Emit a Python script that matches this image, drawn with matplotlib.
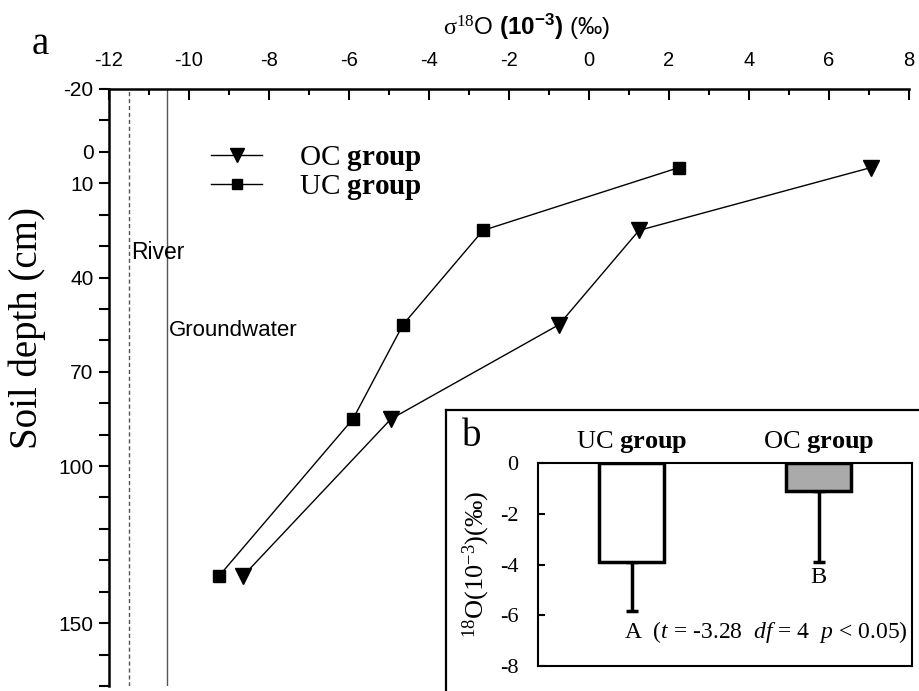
import matplotlib
matplotlib.use("Agg")
import matplotlib.pyplot as plt
from matplotlib.ticker import FixedLocator, FuncFormatter, MultipleLocator

plt.rcParams['mathtext.fontset'] = 'custom'
plt.rcParams['mathtext.rm'] = 'Liberation Serif'
plt.rcParams['mathtext.it'] = 'Liberation Serif:italic'
plt.rcParams['mathtext.bf'] = 'Liberation Serif:bold'
plt.rcParams['mathtext.sf'] = 'Liberation Sans:bold'
plt.rcParams['axes.unicode_minus'] = False

# ---------------- data ----------------
depth = [5, 25, 55, 85, 135]
oc_d18o = [7.05, 1.25, -0.75, -4.95, -8.65]
uc_d18o = [2.25, -2.65, -4.65, -5.9, -9.25]
river_d18o = -11.5
groundwater_d18o = -10.55
depth_labels = [-20, 0, 10, 40, 70, 100, 150]

groups = ["UC", "OC"]
group_means = [-3.9, -1.1]
group_err = [1.95, 2.8]
group_letters = ["A", "B"]
stats_text = r"($t$ = -3.28  $df$ = 4  $p$ < 0.05)"

fig = plt.figure(figsize=(9.19, 6.91), dpi=100)

# ---------------- panel a ----------------
ax = fig.add_axes([109/919, 1-686/691, 800/919, (686-89)/691])
ax.set_xlim(-12, 8)
ax.set_ylim(170, -20)

ax.plot(oc_d18o, depth, color='black', lw=1, marker='v', ms=12,
        label=r"OC $\mathbf{group}$")
ax.plot(uc_d18o, depth, color='black', lw=1, marker='s', ms=9,
        label=r"UC $\mathbf{group}$")
ax.axvline(river_d18o, color='#555555', lw=1, ls=(0, (3, 2)))
ax.axvline(groundwater_d18o, color='#555555', lw=1)
ax.text(river_d18o + 0.05, 32, "River", fontsize=16.5,
        family='Liberation Sans', va='center', ha='left')
ax.text(groundwater_d18o + 0.05, 57, "Groundwater", fontsize=16,
        family='Liberation Sans', va='center', ha='left')

for s in ['right', 'bottom']:
    ax.spines[s].set_visible(False)
for s in ['left', 'top']:
    ax.spines[s].set_linewidth(1.8)

ax.xaxis.tick_top()
ax.xaxis.set_major_locator(MultipleLocator(2))
ax.xaxis.set_minor_locator(MultipleLocator(1))
ax.tick_params(axis='x', which='major', direction='in', length=8, width=1.5,
               labelsize=14.5, pad=14)
ax.tick_params(axis='x', which='minor', direction='in', length=4.5, width=1.5)
for lbl in ax.get_xticklabels():
    lbl.set_family('Liberation Sans')

ax.yaxis.set_major_locator(FixedLocator(list(range(-20, 171, 10))))
ax.yaxis.set_major_formatter(FuncFormatter(
    lambda v, p: f"{int(round(v))}" if int(round(v)) in depth_labels else ""))
ax.tick_params(axis='y', which='major', direction='out', length=7, width=1.5,
               labelsize=15, pad=4)
for lbl in ax.get_yticklabels():
    lbl.set_family('Liberation Sans')
ax.set_ylabel("Soil depth (cm)", family='Liberation Serif', fontsize=28)
ax.yaxis.set_label_coords(-0.079, 0.6)

leg = ax.legend(loc='upper left', bbox_to_anchor=(0.095, 0.952), frameon=False,
                prop={'family': 'Liberation Serif', 'size': 21},
                handlelength=1.75, handletextpad=1.25, labelspacing=0.0,
                markerscale=0.85)

fig.text(40/919, 1-45/691, "a", family='Liberation Serif', fontsize=28,
         ha='center', va='center')
fig.text(527/919, 1-27/691,
         r"$\mathrm{σ}^{18}$O $\mathsf{(10^{-3})}$ (‰)",
         family='Liberation Sans', fontsize=17.5, ha='center', va='center')

# ---------------- panel b frame ----------------
frame = fig.add_axes([446/919, -0.02, 0.6, 1-410/691+0.02])
frame.set_xticks([]); frame.set_yticks([])
frame.set_facecolor('white')
for s in ['right', 'bottom']:
    frame.spines[s].set_visible(False)
for s in ['left', 'top']:
    frame.spines[s].set_linewidth(1.6)
fig.text(472/919, 1-437/691, "b", family='Liberation Serif', fontsize=28,
         ha='center', va='center')

axb = fig.add_axes([538/919, 1-666/691, (912-538)/919, (666-463)/691])
x = list(range(len(groups)))
axb.bar(x, group_means, width=0.35, color=['white', '#aaaaaa'],
        edgecolor='black', linewidth=2.5, zorder=3)
for xi, m, e in zip(x, group_means, group_err):
    axb.errorbar([xi], [m], yerr=[[e], [0]], fmt='none', ecolor='black',
                 elinewidth=2.5, capsize=4, capthick=2.5, zorder=2)
axb.set_xlim(-0.5, 1.5)
axb.set_ylim(-8, 0)
axb.set_xticks(x)
axb.set_xticklabels([rf"{g} $\mathbf{{group}}$" for g in groups],
                    family='Liberation Serif', fontsize=19)
axb.xaxis.tick_top()
axb.tick_params(axis='x', length=0, pad=6)
axb.set_yticks([0, -2, -4, -6, -8])
axb.tick_params(axis='y', direction='in', length=5, width=1.5, labelsize=16, pad=14)
for lbl in axb.get_yticklabels():
    lbl.set_family('Liberation Serif')
for s in axb.spines.values():
    s.set_linewidth(1.5)
axb.set_ylabel(r"$^{18}$O(10$^{-3}$)(‰)", family='Liberation Serif', fontsize=19,
               labelpad=6)

for xi, m, e, letter in zip(x, group_means, group_err, group_letters):
    if letter == "A":
        axb.text(xi - 0.04, m - e - 0.3, letter + "  " + stats_text,
                 family='Liberation Serif', fontsize=17, ha='left', va='top')
    else:
        axb.text(xi, m - e - 0.2, letter, family='Liberation Serif',
                 fontsize=17.5, ha='center', va='top')

fig.savefig("out.png", dpi=100)
